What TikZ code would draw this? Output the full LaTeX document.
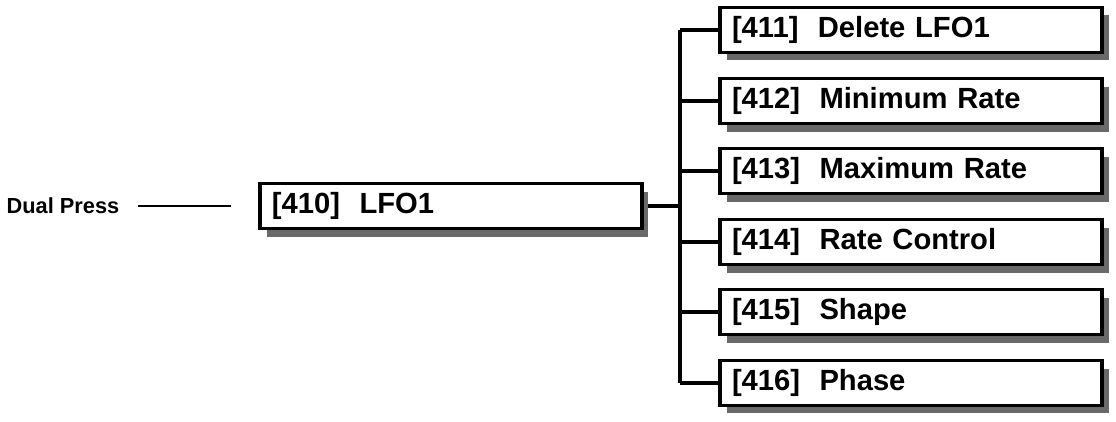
\documentclass[tikz,border=0pt]{standalone}
\usepackage{fontspec}
\setmainfont{Liberation Sans}
\usetikzlibrary{shadows,backgrounds}
\definecolor{shadecolor}{RGB}{105,105,105}

\begin{document}
\begin{tikzpicture}[
    menubox/.style={draw,line width=1pt,fill=white,minimum height=0.45cm,
      text width=3.58cm,inner xsep=0.12cm,inner ysep=0pt,align=left,
      font=\fontsize{8.3}{9}\selectfont\bfseries,
      drop shadow={shadow xshift=0.065cm,shadow yshift=-0.08cm,fill=shadecolor,opacity=1}},
    wire/.style={line width=1pt}]
  \useasboundingbox (0,0) rectangle (11.16,4.21);
  \node[anchor=west,inner sep=0pt,font=\fontsize{6.2}{7}\selectfont\bfseries] (dual) at (0.06,2.15) {Dual Press};
  \node[menubox] (lfo) at (4.51,2.15) {[410]\ \ LFO1};
  \node[menubox] (m411) at (9.11,3.91) {[411]\ \ Delete LFO1};
  \node[menubox] (m412) at (9.11,3.20) {[412]\ \ Minimum Rate};
  \node[menubox] (m413) at (9.11,2.50) {[413]\ \ Maximum Rate};
  \node[menubox] (m414) at (9.11,1.79) {[414]\ \ Rate Control};
  \node[menubox] (m415) at (9.11,1.09) {[415]\ \ Shape};
  \node[menubox] (m416) at (9.11,0.38) {[416]\ \ Phase};
  \coordinate (bus) at (6.80,0);
  \begin{scope}[on background layer]
    \draw[line width=0.6pt] ([xshift=0.18cm]dual.east) -- ([xshift=-0.27cm]lfo.west);
    \draw[wire] (lfo.east) -- (lfo.east -| bus);
    \draw[wire] (m411.west -| bus) -- (m416.west -| bus);
    \foreach \n in {m411,m412,m413,m414,m415,m416}
      \draw[wire] (\n.west -| bus) -- (\n.west);
  \end{scope}
\end{tikzpicture}
\end{document}
